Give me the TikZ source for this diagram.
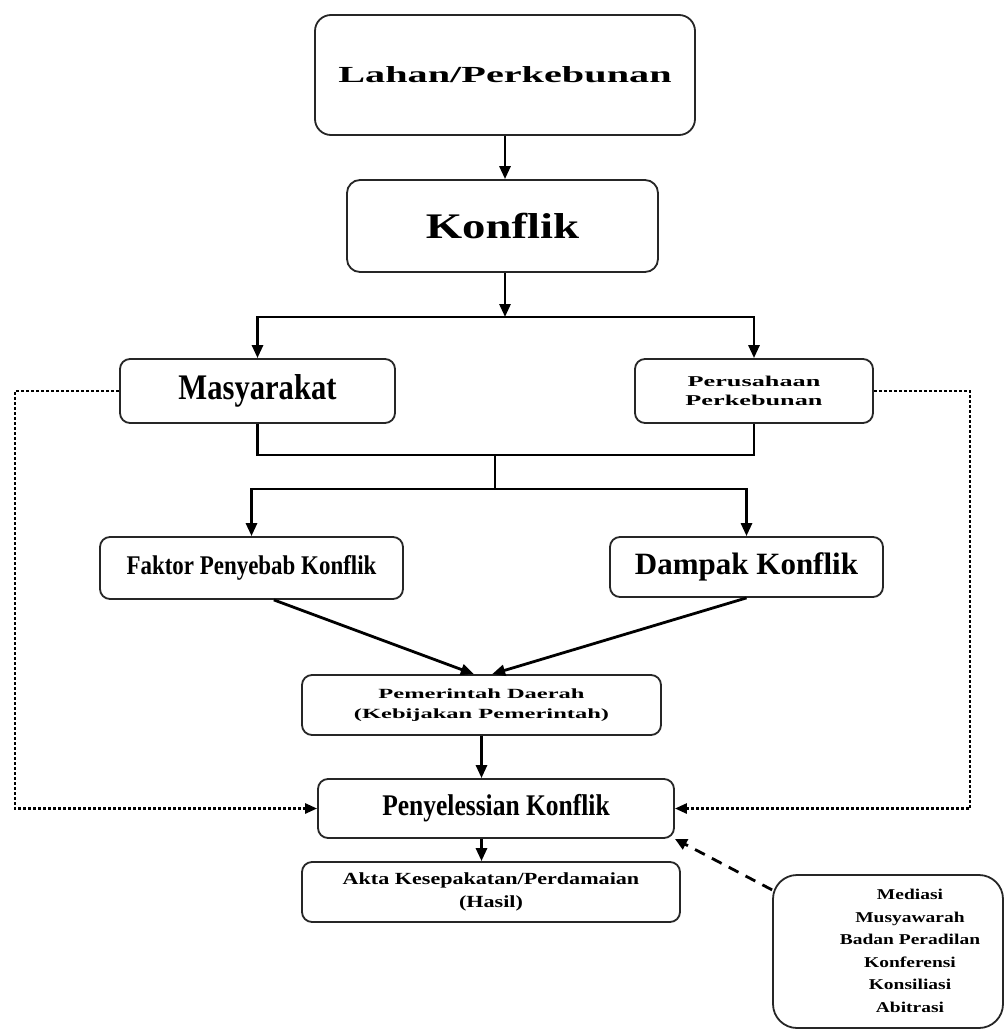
\documentclass[tikz,border=0pt]{standalone}
\usepackage{fontspec}
\setmainfont{Liberation Serif}
\newfontfamily\hurufLebar[FakeStretch=1.75]{Liberation Serif}
\newfontfamily\hurufAgakLebar[FakeStretch=1.3]{Liberation Serif}
\newfontfamily\hurufSempit[FakeStretch=0.85]{Liberation Serif}
\usetikzlibrary{arrows.meta, positioning}
\tikzset{
  % kotak bersudut bulat
  kotak/.style={draw=black!85, line width=1.8pt, rounded corners=10pt, fill=white,
    align=center, inner sep=0pt},
  % panah dan garis penghubung
  panah/.style={-{Triangle[length=13pt, width=11pt]}, line width=2.8pt},
  garis/.style={line width=2.8pt},
  % garis titik-titik ke penyelesaian
  titik/.style={-{Triangle[length=12pt, width=10pt]}, line width=2.6pt,
    dash pattern=on 3pt off 2pt},
  % garis putus-putus dari cara penyelesaian
  putus/.style={-{Triangle[length=12pt, width=11pt]}, line width=2.8pt,
    dash pattern=on 11pt off 8pt},
}

\begin{document}
\begin{tikzpicture}[x=1pt, y=-1pt]
  \useasboundingbox[fill=white] (0,0) rectangle (1007,1031);
  % kotak-kotak utama
  \node[kotak, rounded corners=16pt, minimum width=380pt, minimum height=120pt,
    font=\hurufLebar\bfseries\fontsize{23}{27}\selectfont] (lahan) at (505,75) {Lahan/Perkebunan};
  \node[kotak, rounded corners=13pt, minimum width=311pt, minimum height=92pt,
    font=\hurufAgakLebar\bfseries\fontsize{36}{40}\selectfont] (konflik) at (502.5,226) {Konflik};
  \node[kotak, minimum width=275pt, minimum height=64pt,
    font=\hurufSempit\bfseries\fontsize{36}{40}\selectfont] (masy) at (257.5,391) {Masyarakat};
  \node[kotak, minimum width=238pt, minimum height=64pt,
    font=\hurufLebar\bfseries\fontsize{15}{19}\selectfont] (perus) at (754,391) {Perusahaan\\Perkebunan};
  \node[kotak, minimum width=303pt, minimum height=62pt,
    font=\hurufSempit\bfseries\fontsize{27}{31}\selectfont] (faktor) at (251.5,568) {Faktor Penyebab Konflik};
  \node[kotak, minimum width=273pt, minimum height=60pt,
    font=\bfseries\fontsize{31}{35}\selectfont] (dampak) at (746.5,567) {Dampak Konflik};
  \node[kotak, minimum width=359pt, minimum height=60pt,
    font=\hurufLebar\bfseries\fontsize{14}{20}\selectfont] (pemda) at (481.5,705) {Pemerintah Daerah\\(Kebijakan Pemerintah)};
  \node[kotak, minimum width=356pt, minimum height=59pt,
    font=\hurufSempit\bfseries\fontsize{30}{34}\selectfont] (selesai) at (496,808.5) {Penyelessian Konflik};
  \node[kotak, minimum width=378pt, minimum height=60pt,
    font=\hurufAgakLebar\bfseries\fontsize{17}{23}\selectfont] (akta) at (491,892) {Akta Kesepakatan/Perdamaian\\(Hasil)};
  \node[kotak, rounded corners=24pt, minimum width=230pt, minimum height=153pt,
    font=\hurufAgakLebar\bfseries\fontsize{15}{22.5}\selectfont] (cara) at (888,951.5)
    {\hspace*{44pt}\begin{tabular}{@{}c@{}}Mediasi\\Musyawarah\\Badan Peradilan\\Konferensi\\Konsiliasi\\Abitrasi\end{tabular}};
  % panah utama
  \draw[panah] (lahan.south) -- (lahan.south |- konflik.north);
  \coordinate (bagi) at (505,317);
  \draw[panah] (konflik.south -| bagi) -- (bagi);
  \draw[panah] (bagi) -| (masy.north);
  \draw[panah] (bagi) -| (perus.north);
  % gabungan masyarakat dan perusahaan
  \coordinate (gabung) at (495,455);
  \coordinate (bagi2) at (495,489);
  \draw[garis] (masy.south) |- (gabung) -| (perus.south);
  \draw[garis] (gabung) -- (bagi2);
  \draw[panah] (bagi2) -| (faktor.north);
  \draw[panah] (bagi2) -| (dampak.north);
  \draw[panah] (faktor.-55) -- (pemda.104);
  \draw[panah] (dampak.south) -- (pemda.71);
  \draw[panah] (pemda.south) -- (pemda.south |- selesai.north);
  \draw[panah] (pemda.south |- selesai.south) -- (pemda.south |- akta.north);
  % garis titik-titik
  \coordinate (kiri) at (15,391);
  \coordinate (kanan) at (970,391);
  \draw[titik] (masy.west) -- (kiri) |- (selesai.west);
  \draw[titik] (perus.east) -- (kanan) |- (selesai.east);
  % cara penyelesaian
  \draw[putus] (cara.152) -- (selesai.south east);
\end{tikzpicture}
\end{document}
